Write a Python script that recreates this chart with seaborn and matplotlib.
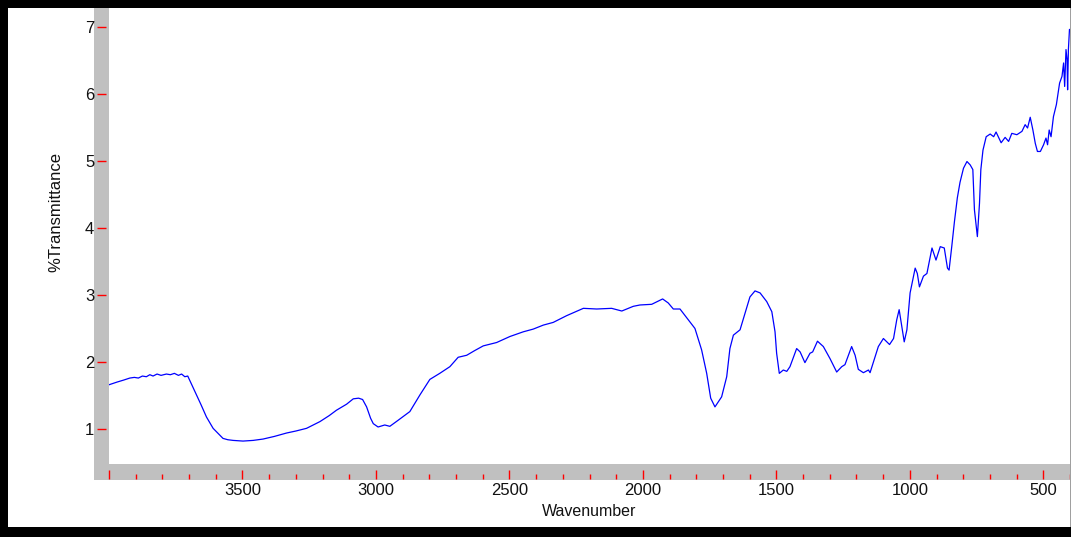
import matplotlib
matplotlib.use("Agg")
import matplotlib.pyplot as plt
from matplotlib.patches import Rectangle
from matplotlib.ticker import MultipleLocator, FixedLocator
import seaborn as sns
import pandas as pd

# ---- data ----
wavenumber = [4000, 3970, 3945, 3922, 3905, 3890, 3875, 3860, 3847, 3835, 3820, 3805,
              3785, 3770, 3755, 3740, 3728, 3716, 3705, 3698, 3685, 3672, 3655, 3635,
              3610, 3590, 3573, 3555, 3535, 3498, 3460, 3423, 3380, 3335, 3300, 3260,
              3210, 3175, 3148, 3110, 3085, 3065, 3050, 3035, 3020, 3010, 2992, 2967,
              2948, 2917, 2873, 2835, 2798, 2761, 2723, 2692, 2660, 2630, 2598, 2548,
              2498, 2448, 2411, 2373, 2336, 2286, 2223, 2173, 2117, 2079, 2036, 2011,
              1967, 1926, 1905, 1886, 1861, 1830, 1805, 1780, 1761, 1746, 1730, 1705,
              1686, 1674, 1661, 1636, 1617, 1599, 1580, 1561, 1536, 1517, 1505, 1499,
              1489, 1474, 1461, 1449, 1424, 1411, 1393, 1374, 1364, 1346, 1324, 1299,
              1274, 1255, 1243, 1218, 1205, 1193, 1174, 1155, 1149, 1118, 1099, 1076,
              1061, 1049, 1040, 1030, 1021, 1011, 999, 980, 972, 964, 949, 936,
              917, 902, 886, 871, 859, 853, 843, 833, 822, 812, 799, 786,
              774, 764, 758, 747, 739, 734, 726, 714, 699, 686, 677, 658,
              643, 630, 618, 599, 580, 568, 559, 549, 539, 530, 522, 511,
              499, 490, 484, 478, 471, 462, 451, 439, 430, 424, 420, 415,
              411, 409, 406, 402, 400]
transmittance = [1.66, 1.70, 1.73, 1.76, 1.77, 1.76, 1.79, 1.78, 1.81, 1.79, 1.82, 1.80,
                 1.82, 1.81, 1.83, 1.80, 1.82, 1.78, 1.79, 1.73, 1.62, 1.51, 1.36, 1.18,
                 1.01, 0.93, 0.86, 0.84, 0.83, 0.82, 0.83, 0.85, 0.89, 0.94, 0.97, 1.01,
                 1.11, 1.20, 1.28, 1.37, 1.45, 1.46, 1.44, 1.33, 1.16, 1.08, 1.03, 1.06,
                 1.04, 1.13, 1.26, 1.51, 1.74, 1.83, 1.93, 2.07, 2.10, 2.17, 2.24, 2.29,
                 2.38, 2.45, 2.49, 2.55, 2.59, 2.69, 2.80, 2.79, 2.80, 2.76, 2.83, 2.85,
                 2.86, 2.94, 2.88, 2.79, 2.79, 2.63, 2.50, 2.18, 1.83, 1.46, 1.33, 1.48,
                 1.78, 2.20, 2.40, 2.48, 2.73, 2.97, 3.06, 3.03, 2.90, 2.75, 2.45, 2.13,
                 1.83, 1.88, 1.86, 1.93, 2.20, 2.15, 1.99, 2.13, 2.15, 2.31, 2.23, 2.05,
                 1.85, 1.93, 1.96, 2.23, 2.10, 1.89, 1.84, 1.88, 1.84, 2.23, 2.35, 2.26,
                 2.35, 2.63, 2.78, 2.53, 2.30, 2.48, 3.03, 3.40, 3.32, 3.12, 3.28, 3.32,
                 3.70, 3.52, 3.72, 3.70, 3.40, 3.37, 3.72, 4.09, 4.45, 4.68, 4.89, 4.99,
                 4.94, 4.87, 4.27, 3.87, 4.37, 4.87, 5.16, 5.36, 5.40, 5.36, 5.43, 5.27,
                 5.35, 5.29, 5.41, 5.39, 5.44, 5.54, 5.49, 5.65, 5.46, 5.26, 5.14, 5.14,
                 5.24, 5.34, 5.24, 5.46, 5.36, 5.66, 5.84, 6.16, 6.26, 6.46, 6.11, 6.66,
                 6.51, 6.06, 6.66, 6.96, 6.96]

x_ticks = [4000, 3500, 3000, 2500, 2000, 1500, 1000, 500]
x_tick_labels = ["", "3500", "3000", "2500", "2000", "1500", "1000", "500"]
y_ticks = [1, 2, 3, 4, 5, 6, 7]
y_tick_labels = ["1", "2", "3", "4", "5", "6", "7"]

df = pd.DataFrame({"Wavenumber": wavenumber, "T": transmittance})

# ---- figure ----
W, H = 1071, 537
fig = plt.figure(figsize=(W / 100, H / 100), dpi=100)
fig.patch.set_facecolor("white")
plt.rcParams["font.family"] = ["Liberation Sans", "DejaVu Sans"]

def px_rect(x0, y0, x1, y1, **kw):
    # pixel coordinates with y measured from top
    r = Rectangle((x0 / W, 1 - y1 / H), (x1 - x0) / W, (y1 - y0) / H,
                  transform=fig.transFigure, **kw)
    fig.add_artist(r)
    return r

# axes area
L, R, T, B = 109, 1070, 8, 464
ax = fig.add_axes([L / W, 1 - B / H, (R - L) / W, (B - T) / H])
ax.set_facecolor("white")

# gray frame bars (below the axes)
px_rect(94, T, L, 480, facecolor="#c0c0c0", edgecolor="none", zorder=-1)
px_rect(94, B, W, 480, facecolor="#c0c0c0", edgecolor="none", zorder=-1)

sns.lineplot(data=df, x="Wavenumber", y="T", ax=ax, color="#0000ff",
             linewidth=0.9, estimator=None, sort=False)

ax.set_xlim(4000, 400)
ax.set_ylim(0.478, 7.28)

for s in ["top", "right"]:
    ax.spines[s].set_visible(False)
ax.spines["left"].set_position(("outward", 12 * 0.72))
ax.spines["bottom"].set_position(("outward", 15 * 0.72))
ax.spines["left"].set_linewidth(0)
ax.spines["bottom"].set_linewidth(0)

ax.xaxis.set_major_locator(FixedLocator(x_ticks))
ax.set_xticklabels(x_tick_labels)
ax.xaxis.set_minor_locator(MultipleLocator(100))
ax.yaxis.set_major_locator(FixedLocator(y_ticks))
ax.set_yticklabels(y_tick_labels)

ax.tick_params(axis="x", which="major", direction="in", length=6.5, width=1.0,
               color="#ff0000", labelsize=12, pad=3, labelcolor="#111111")
ax.tick_params(axis="x", which="minor", direction="in", length=3.3, width=1.0,
               color="#ff0000")
ax.tick_params(axis="y", which="major", direction="in", length=6.5, width=1.0,
               color="#ff0000", labelsize=12, pad=2, labelcolor="#111111")

ax.set_xlabel("Wavenumber", fontsize=11.5, color="#111111")
ax.set_ylabel("%Transmittance", fontsize=12, color="#111111")
ax.xaxis.set_label_coords(0.5, -0.088)
ax.yaxis.set_label_coords((63 - L) / (R - L), (B - 212) / (B - T))

# black outer border
px_rect(0, 0, W, 8, facecolor="black", edgecolor="none", zorder=10)
px_rect(0, 0, 8, H, facecolor="black", edgecolor="none", zorder=10)
px_rect(0, 527, W, H, facecolor="black", edgecolor="none", zorder=10)
px_rect(1070, 8, W, 527, facecolor="#a0a0a0", edgecolor="none", zorder=10)

fig.savefig("out.png", dpi=100)
